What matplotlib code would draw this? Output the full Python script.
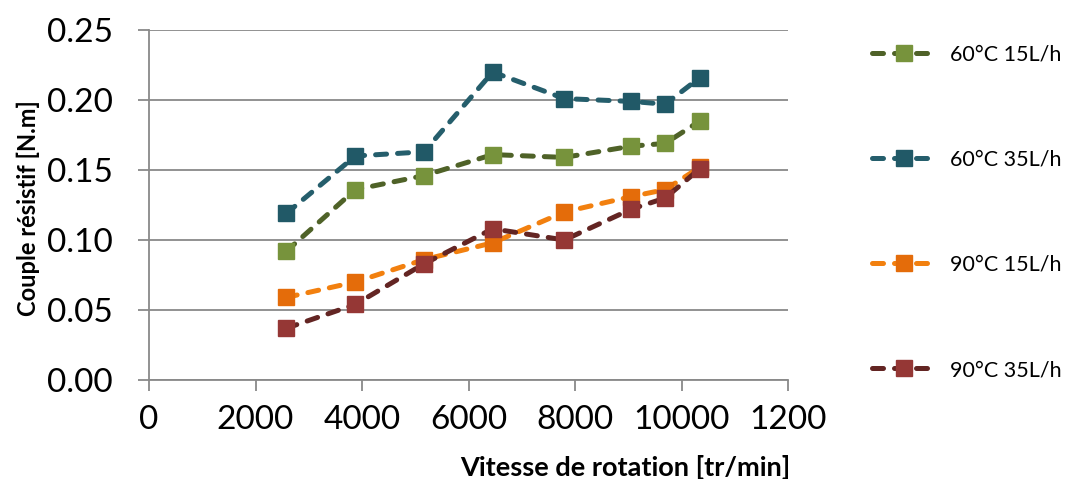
import numpy as np
import matplotlib.pyplot as plt

# vitesse de rotation [tr/min]
vitesse = [2580, 3875, 5165, 6455, 7800, 9055, 9695, 10345]

# couple resistif [N.m]
c60_15 = [0.092, 0.136, 0.146, 0.161, 0.159, 0.167, 0.169, 0.185]
c60_35 = [0.119, 0.160, 0.163, 0.220, 0.201, 0.199, 0.197, 0.216]
c90_15 = [0.059, 0.070, 0.086, 0.098, 0.120, 0.131, 0.136, 0.152]
c90_35 = [0.037, 0.054, 0.083, 0.108, 0.100, 0.122, 0.130, 0.151]

labels = ['60°C 15L/h', '60°C 35L/h', '90°C 15L/h', '90°C 35L/h']
line_cols = ['#4f6228', '#255e6c', '#f2800f', '#632523']
mark_cols = ['#77933c', '#215967', '#e46c0a', '#953735']

plt.rcParams['font.family'] = ['Lato', 'DejaVu Sans']

fig = plt.figure(figsize=(10.70, 4.79), dpi=100)
ax = fig.add_axes([149/1070, 1-380/479, (788-149)/1070, (380-30)/479])

gray = '#898989'
for ys, lab, lc, mc in zip([c60_15, c60_35, c90_15, c90_35], labels, line_cols, mark_cols):
    ax.plot(vitesse, ys, color=lc, lw=3.6, dashes=(2.2, 2.2), dash_capstyle='round',
            marker='s', ms=11, mfc=mc, mec=mc, label=lab, zorder=3)

ax.set_xlim(0, 12000)
ax.set_ylim(0, 0.25)
ax.set_xticks(np.arange(0, 12001, 2000))
ax.set_xticklabels(['0', '2000', '4000', '6000', '8000', '10000', '1200'])
ax.set_yticks(np.arange(0, 0.2501, 0.05))
ax.set_yticklabels(['%.2f' % v for v in np.arange(0, 0.2501, 0.05)])
ax.yaxis.grid(True, color=gray, lw=1.3)
ax.set_axisbelow(True)
for s in ['top', 'right']:
    ax.spines[s].set_visible(False)
for s in ['left', 'bottom']:
    ax.spines[s].set_color(gray)
    ax.spines[s].set_linewidth(1.3)
ax.tick_params(axis='both', direction='out', length=8, width=1.3, color=gray,
               labelsize=24)
ax.tick_params(axis='y', pad=18)
ax.tick_params(axis='x', pad=10)

ax.set_ylabel('Couple résistif [N.m]', fontsize=17, fontweight='bold')
ax.yaxis.set_label_coords(-0.17, 0.49)
ax.set_xlabel('Vitesse de rotation [tr/min]', fontsize=19.5, fontweight='bold',
              ha='right', va='center')
ax.xaxis.set_label_coords(1.003, -0.249)

ax.legend(loc='upper left', bbox_to_anchor=(1.118, 0.982), frameon=False,
          fontsize=15.5, labelspacing=3.95, handlelength=3.0, handletextpad=0.6,
          borderaxespad=0)

fig.savefig('out.png', dpi=100)
